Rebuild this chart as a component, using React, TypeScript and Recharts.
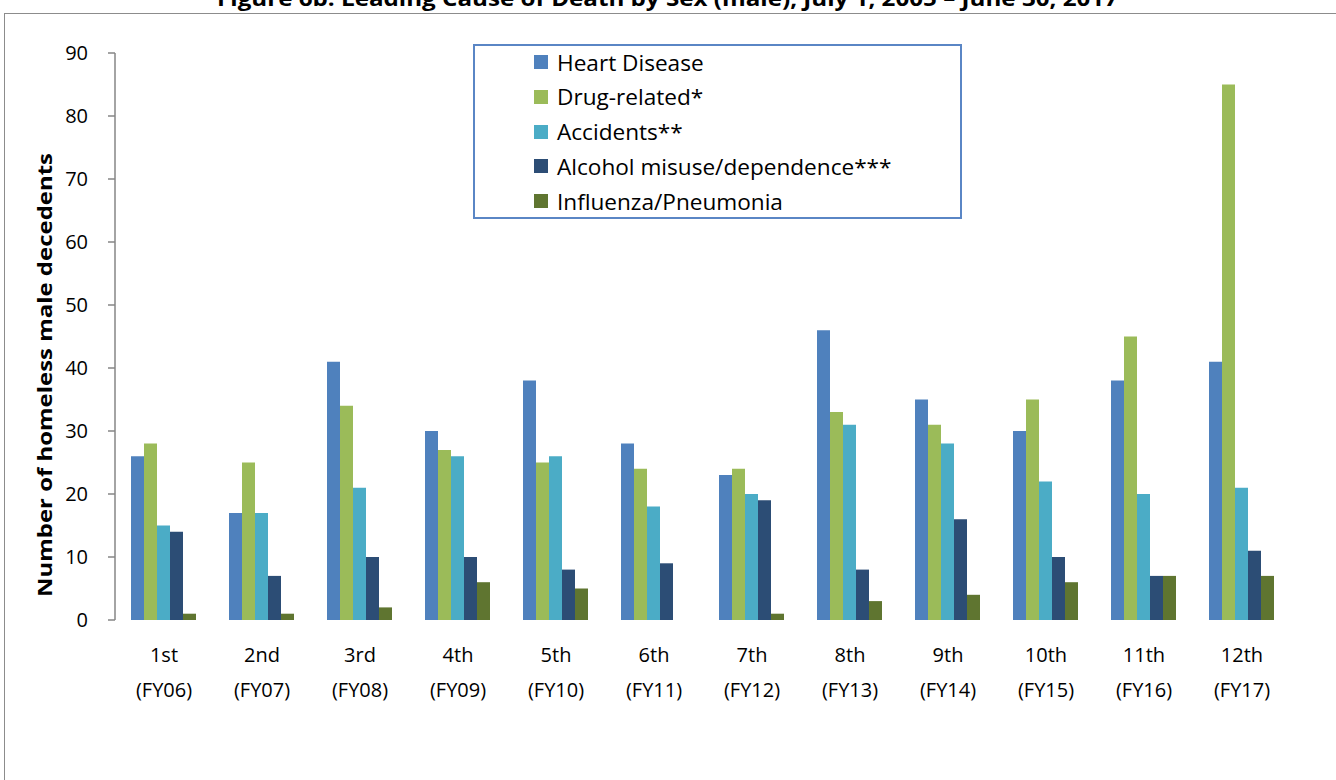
import { Bar, BarChart, XAxis, YAxis } from "recharts";

const rounds = ["1st", "2nd", "3rd", "4th", "5th", "6th", "7th", "8th", "9th", "10th", "11th", "12th"];
const fiscalYears = ["(FY06)", "(FY07)", "(FY08)", "(FY09)", "(FY10)", "(FY11)", "(FY12)", "(FY13)", "(FY14)", "(FY15)", "(FY16)", "(FY17)"];

const heartDisease = [26, 17, 41, 30, 38, 28, 23, 46, 35, 30, 38, 41];
const drugRelated = [28, 25, 34, 27, 25, 24, 24, 33, 31, 35, 45, 85];
const accidents = [15, 17, 21, 26, 26, 18, 20, 31, 28, 22, 20, 21];
const alcoholMisuse = [14, 7, 10, 10, 8, 9, 19, 8, 16, 10, 7, 11];
const influenza = [1, 1, 2, 6, 5, 0, 1, 3, 4, 6, 7, 7];

const yTicks = [0, 10, 20, 30, 40, 50, 60, 70, 80, 90];

const series = [
  { key: "heart", name: "Heart Disease", color: "#4f81bd", values: heartDisease },
  { key: "drug", name: "Drug-related*", color: "#9bbb59", values: drugRelated },
  { key: "accidents", name: "Accidents**", color: "#4bacc6", values: accidents },
  { key: "alcohol", name: "Alcohol misuse/dependence***", color: "#2c4d75", values: alcoholMisuse },
  { key: "flu", name: "Influenza/Pneumonia", color: "#5f7530", values: influenza },
];

const data = rounds.map((r, i) => {
  const row: Record<string, string | number> = { round: r, fy: fiscalYears[i] };
  series.forEach((s) => (row[s.key] = s.values[i]));
  return row;
});

const FONT = "'Open Sans', Lato, sans-serif";

function RoundTick(props: any) {
  const { x, y, index } = props;
  return (
    <text x={x} textAnchor="middle" fontFamily={FONT} fontSize={20} fill="#000">
      <tspan x={x} y={y + 34}>{rounds[index]}</tspan>
      <tspan x={x} y={y + 69}>{fiscalYears[index]}</tspan>
    </text>
  );
}

export default function App() {
  return (
    <div
      style={{
        position: "fixed",
        left: 0,
        top: 0,
        width: 1336,
        height: 780,
        overflow: "hidden",
        background: "#fff",
        fontFamily: FONT,
      }}
    >
      <svg style={{ position: "absolute", left: 0, top: 0 }} width={1336} height={20}>
        <text
          x={217}
          y={6}
          textLength={901}
          lengthAdjust="spacingAndGlyphs"
          fontFamily={FONT}
          fontWeight="bold"
          fontSize={21}
          fill="#000"
        >
          Figure 6b. Leading Cause of Death by Sex (male), July 1, 2005 – June 30, 2017
        </text>
      </svg>
      <div
        style={{
          position: "absolute",
          left: 4,
          top: 13,
          width: 1400,
          height: 800,
          borderTop: "1.5px solid #8c8c8c",
          borderLeft: "1.5px solid #8c8c8c",
        }}
      />
      <div style={{ position: "absolute", left: 0, top: 0 }}>
        <BarChart
          width={1336}
          height={780}
          data={data}
          margin={{ top: 53, right: 45, left: 0, bottom: 0 }}
          barCategoryGap={16}
          barGap={0}
        >
          <XAxis dataKey="round" height={160} axisLine={false} tickLine={false} tick={<RoundTick />} interval={0} />
          <YAxis
            width={115}
            domain={[0, 90]}
            ticks={yTicks}
            interval={0}
            axisLine={{ stroke: "#868686", strokeWidth: 1.5 }}
            tickLine={{ stroke: "#868686", strokeWidth: 1.5 }}
            tickSize={7}
            tickMargin={20}
            tick={{ fontSize: 20, fill: "#000", fontFamily: FONT }}
            label={{
              content: () => (
                <text
                  x={44}
                  y={597}
                  transform="rotate(-90 44 597)"
                  textLength={444}
                  lengthAdjust="spacingAndGlyphs"
                  textAnchor="start"
                  dominantBaseline="central"
                  fontFamily={FONT}
                  fontWeight="bold"
                  fontSize={20}
                  fill="#000"
                >
                  Number of homeless male decedents
                </text>
              ),
            }}
          />
          {series.map((s) => (
            <Bar key={s.key} dataKey={s.key} name={s.name} fill={s.color} isAnimationActive={false} />
          ))}
        </BarChart>
      </div>
      <div
        style={{
          position: "absolute",
          left: 473,
          top: 44,
          width: 485,
          height: 171,
          border: "2px solid #5a86c5",
          background: "#fff",
        }}
      >
        {series.map((s, i) => (
          <div
            key={s.key}
            style={{
              position: "absolute",
              left: 59,
              top: -1 + i * 34.8,
              height: 34,
              display: "flex",
              alignItems: "center",
              fontSize: 22.6,
              whiteSpace: "nowrap",
            }}
          >
            <span style={{ display: "inline-block", width: 14, height: 14, background: s.color, marginRight: 9 }} />
            {s.name}
          </div>
        ))}
      </div>
    </div>
  );
}
